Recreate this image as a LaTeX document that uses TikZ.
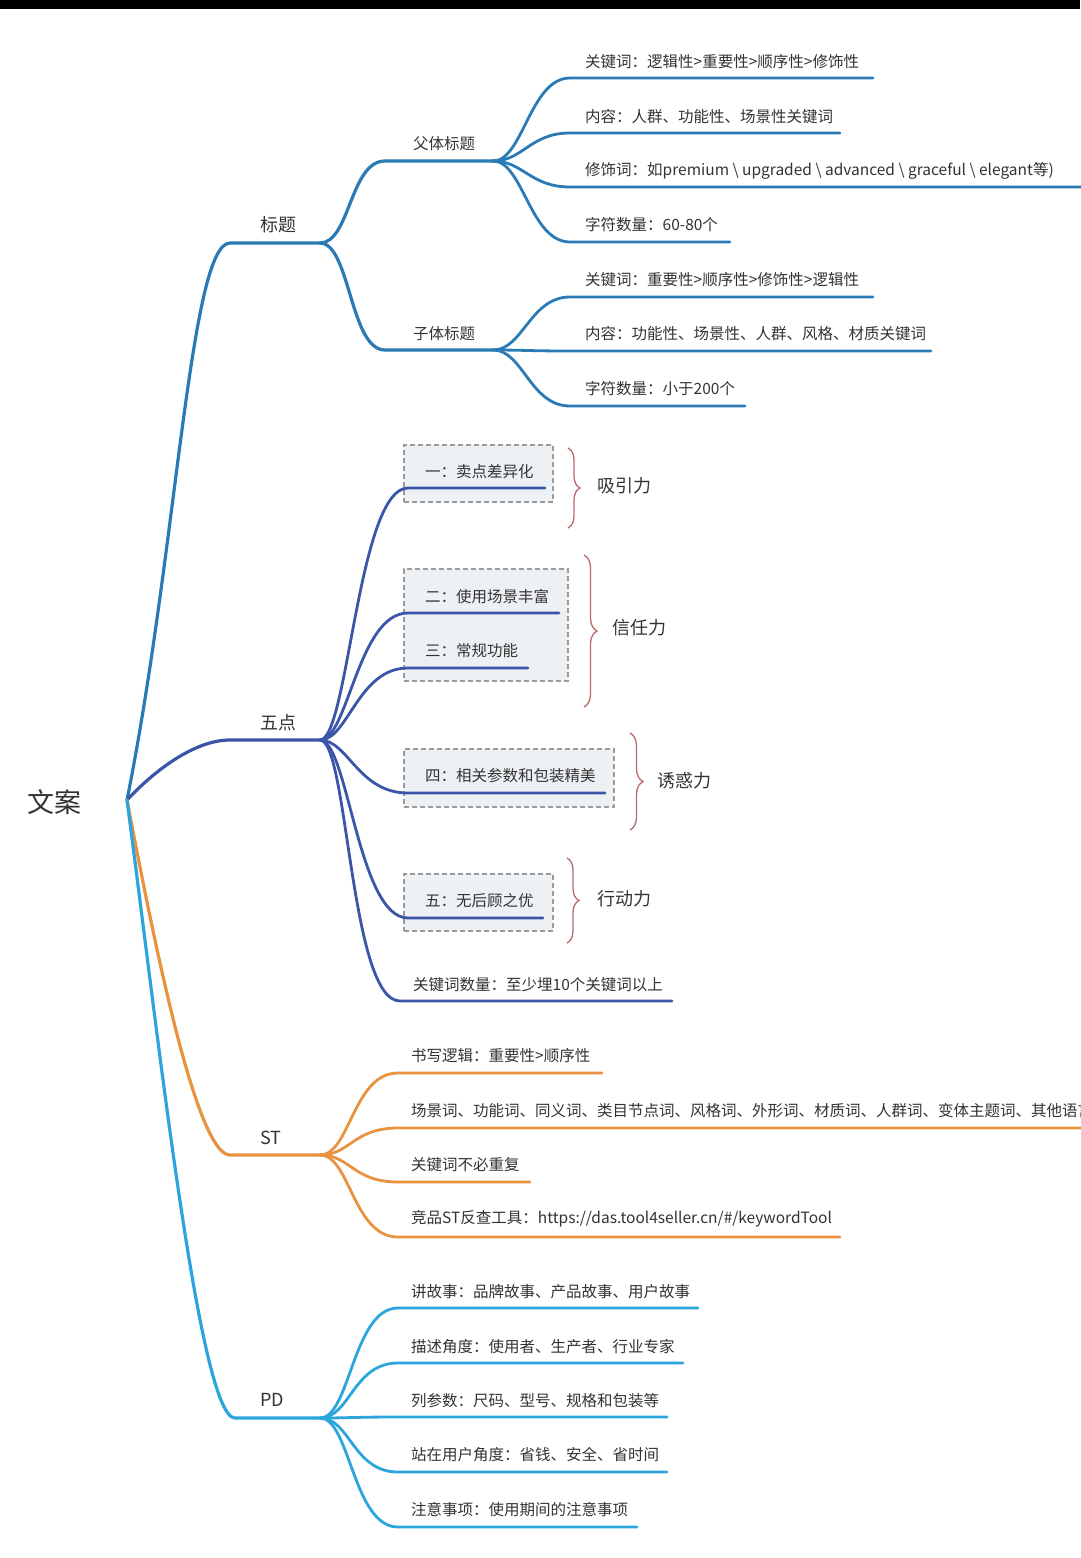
\documentclass[tikz,border=0pt]{standalone}
\usepackage{fontspec}
\setmainfont{Noto Sans CJK SC}
\usetikzlibrary{decorations.pathreplacing}
\definecolor{cT}{HTML}{2A7AB5}
\definecolor{cW}{HTML}{3B56A8}
\definecolor{cS}{HTML}{E9923F}
\definecolor{cP}{HTML}{2BA5DC}
\definecolor{cB}{HTML}{B86B6B}
\definecolor{txtc}{HTML}{333333}
\definecolor{boxf}{HTML}{EEF1F4}
\definecolor{boxd}{HTML}{9A9A9A}
\newcommand{\fsz}[1]{\fontsize{#1}{#1}\selectfont}
\begin{document}
\begin{tikzpicture}[x=1pt,y=-1pt,
  txt/.style={anchor=west,inner sep=0pt,text=txtc,font=\fsz{15.5}},
  lab/.style={anchor=west,inner sep=0pt,text=txtc,font=\fsz{18}},
  br/.style={line width=3.2pt,line cap=round},
  lf/.style={line width=2.8pt,line cap=round},
  dbox/.style={draw=boxd,fill=boxf,dashed,dash pattern=on 5pt off 3pt,line width=1.5pt},
  brc/.style={draw=cB,line width=1.3pt,decorate,decoration={brace,amplitude=#1}},
]
\useasboundingbox (0,0) rectangle (1080,1558);
\fill[white] (0,0) rectangle (1080,1558);
\fill[black] (0,0) rectangle (1080,9);

% root
\coordinate (root) at (127,800);
\node[txt,font=\fsz{27}] (wa) at (27,802) {文案};

% ---------- 标题 ----------
\coordinate (tS) at (230,243); \coordinate (tE) at (320,243);
\node[lab] (t) at (260,225) {标题};
\draw[br,cT] (root) .. controls +(50,-250) and +(-40,0) .. (tS) -- (tE);

\coordinate (fS) at (385,161); \coordinate (fE) at (493,161);
\node[txt] (f) at (413,144) {父体标题};
\draw[br,cT] (tE) .. controls +(30,0) and +(-35,0) .. (fS) -- (fE);
\coordinate (zS) at (385,350); \coordinate (zE) at (493,350);
\node[txt] (z) at (413,334) {子体标题};
\draw[br,cT] (tE) .. controls +(30,0) and +(-35,0) .. (zS) -- (zE);

\coordinate (f1s) at (570,78);  \coordinate (f1e) at (873,78);
\coordinate (f2s) at (570,133); \coordinate (f2e) at (840,133);
\coordinate (f3s) at (570,187); \coordinate (f3e) at (1090,187);
\coordinate (f4s) at (570,242); \coordinate (f4e) at (730,242);
\node[txt] (f1) at (585,62) {关键词：逻辑性>重要性>顺序性>修饰性};
\node[txt] (f2) at (585,117) {内容：人群、功能性、场景性关键词};
\node[txt] (f3) at (585,171) {修饰词：如premium \textbackslash\ upgraded \textbackslash\ advanced \textbackslash\ graceful \textbackslash\ elegant等)};
\node[txt] (f4) at (585,225) {字符数量：60-80个};
\foreach \i in {1,2,3,4}
  \draw[lf,cT] (fE) .. controls +(30,0) and +(-40,0) .. (f\i s) -- (f\i e);

\coordinate (z1s) at (570,297); \coordinate (z1e) at (873,297);
\coordinate (z2s) at (570,351); \coordinate (z2e) at (931,351);
\coordinate (z3s) at (570,406); \coordinate (z3e) at (745,406);
\node[txt] (z1) at (585,280) {关键词：重要性>顺序性>修饰性>逻辑性};
\node[txt] (z2) at (585,334) {内容：功能性、场景性、人群、风格、材质关键词};
\node[txt] (z3) at (585,389) {字符数量：小于200个};
\foreach \i in {1,2,3}
  \draw[lf,cT] (zE) .. controls +(30,0) and +(-40,0) .. (z\i s) -- (z\i e);

% ---------- 五点 ----------
\coordinate (wS) at (230,740); \coordinate (wE) at (320,740);
\node[lab] (w) at (260,723) {五点};
\draw[br,cW] (root) .. controls +(28,-30) and +(-35,0) .. (wS) -- (wE);

\node[dbox,minimum width=149pt,minimum height=57pt,anchor=north west] (bx1) at (403,444) {};
\node[dbox,minimum width=164pt,minimum height=112pt,anchor=north west] (bx2) at (403,568) {};
\node[dbox,minimum width=210pt,minimum height=58pt,anchor=north west] (bx3) at (403,748) {};
\node[dbox,minimum width=149pt,minimum height=57pt,anchor=north west] (bx4) at (403,873) {};

\coordinate (w1s) at (408,488);  \coordinate (w1e) at (545,488);
\coordinate (w2s) at (408,613);  \coordinate (w2e) at (559,613);
\coordinate (w3s) at (408,668);  \coordinate (w3e) at (528,668);
\coordinate (w4s) at (408,793);  \coordinate (w4e) at (605,793);
\coordinate (w5s) at (408,918);  \coordinate (w5e) at (543,918);
\coordinate (w6s) at (400,1001); \coordinate (w6e) at (672,1001);
\node[txt] (w1) at (425,472) {一：卖点差异化};
\node[txt] (w2) at (425,597) {二：使用场景丰富};
\node[txt] (w3) at (425,651) {三：常规功能};
\node[txt] (w4) at (425,776) {四：相关参数和包装精美};
\node[txt] (w5) at (425,901) {五：无后顾之优};
\node[txt] (w6) at (413,985) {关键词数量：至少埋10个关键词以上};
\foreach \i in {1,...,6}
  \draw[lf,cW] (wE) .. controls +(28,0) and +(-50,0) .. (w\i s) -- (w\i e);

% braces
\coordinate (b1t) at (568,448); \coordinate (b1b) at (568,528);
\coordinate (b2t) at (584,555); \coordinate (b2b) at (584,707);
\coordinate (b3t) at (630,733); \coordinate (b3b) at (630,830);
\coordinate (b4t) at (567,858); \coordinate (b4b) at (567,943);
\draw[brc=12pt] (b1t) -- (b1b);
\draw[brc=13pt] (b2t) -- (b2b);
\draw[brc=13pt] (b3t) -- (b3b);
\draw[brc=12pt] (b4t) -- (b4b);
\node[lab] (x1) at (597,486) {吸引力};
\node[lab] (x2) at (612,628) {信任力};
\node[lab] (x3) at (657,781) {诱惑力};
\node[lab] (x4) at (597,899) {行动力};

% ---------- ST ----------
\coordinate (sS) at (230,1155); \coordinate (sE) at (320,1155);
\node[lab] (s) at (260,1138) {ST};
\draw[br,cS] (root) .. controls +(23,120) and +(-35,0) .. (sS) -- (sE);

\coordinate (s1s) at (398,1073); \coordinate (s1e) at (602,1073);
\coordinate (s2s) at (398,1128); \coordinate (s2e) at (1090,1128);
\coordinate (s3s) at (398,1182); \coordinate (s3e) at (530,1182);
\coordinate (s4s) at (398,1237); \coordinate (s4e) at (840,1237);
\node[txt] (s1) at (411,1056) {书写逻辑：重要性>顺序性};
\node[txt] (s2) at (411,1111) {场景词、功能词、同义词、类目节点词、风格词、外形词、材质词、人群词、变体主题词、其他语言};
\node[txt] (s3) at (411,1165) {关键词不必重复};
\node[txt] (s4) at (411,1219) {竞品ST反查工具：https://das.tool4seller.cn/\#/keywordTool};
\foreach \i in {1,2,3,4}
  \draw[lf,cS] (sE) .. controls +(30,0) and +(-45,0) .. (s\i s) -- (s\i e);

% ---------- PD ----------
\coordinate (pS) at (235,1418); \coordinate (pE) at (320,1418);
\node[lab] (p) at (260,1400) {PD};
\draw[br,cP] (root) .. controls +(33,250) and +(-35,0) .. (pS) -- (pE);

\coordinate (p1s) at (398,1308); \coordinate (p1e) at (698,1308);
\coordinate (p2s) at (398,1363); \coordinate (p2e) at (683,1363);
\coordinate (p3s) at (398,1417); \coordinate (p3e) at (667,1417);
\coordinate (p4s) at (398,1472); \coordinate (p4e) at (667,1472);
\coordinate (p5s) at (398,1527); \coordinate (p5e) at (637,1527);
\node[txt] (p1) at (411,1292) {讲故事：品牌故事、产品故事、用户故事};
\node[txt] (p2) at (411,1347) {描述角度：使用者、生产者、行业专家};
\node[txt] (p3) at (411,1401) {列参数：尺码、型号、规格和包装等};
\node[txt] (p4) at (411,1455) {站在用户角度：省钱、安全、省时间};
\node[txt] (p5) at (411,1510) {注意事项：使用期间的注意事项};
\foreach \i in {1,...,5}
  \draw[lf,cP] (pE) .. controls +(30,0) and +(-45,0) .. (p\i s) -- (p\i e);
\end{tikzpicture}
\end{document}
